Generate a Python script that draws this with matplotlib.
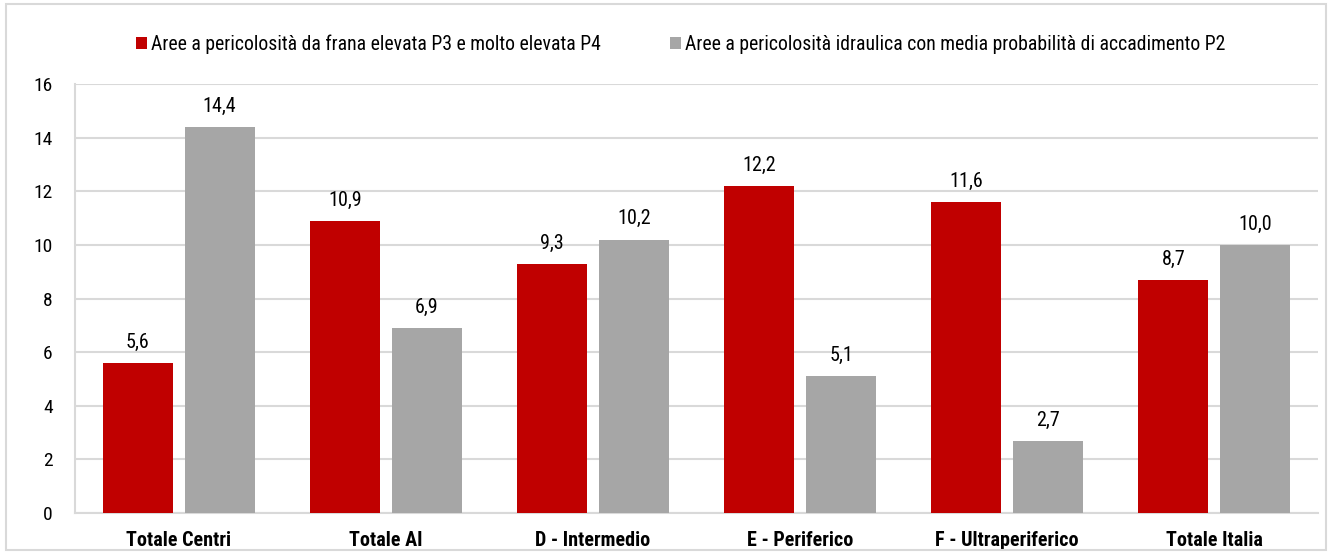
import numpy as np
import matplotlib
matplotlib.use("Agg")
import matplotlib.pyplot as plt
from matplotlib.patches import Rectangle

# dati
categorie = ["Totale Centri", "Totale AI", "D - Intermedio", "E - Periferico",
             "F - Ultraperiferico", "Totale Italia"]
frana = [5.6, 10.9, 9.3, 12.2, 11.6, 8.7]
idraulica = [14.4, 6.9, 10.2, 5.1, 2.7, 10.0]
nome_frana = "Aree a pericolosità da frana elevata P3 e molto elevata P4"
nome_idraulica = "Aree a pericolosità idraulica con media probabilità di accadimento P2"
yticks = [0, 2, 4, 6, 8, 10, 12, 14, 16]

plt.rcParams['font.family'] = ['Roboto Condensed', 'DejaVu Sans']

ROSSO = "#c00000"
GRIGIO = "#a6a6a6"
GRID = "#d9d9d9"

W, H = 1329, 552
fig = plt.figure(figsize=(W / 100, H / 100), dpi=100)
ax = fig.add_axes([75 / W, 1 - 513 / H, (1318 - 75) / W, (513 - 84) / H])

x = np.arange(len(categorie))
w = 0.338
b1 = ax.bar(x - 0.198, frana, w, color=ROSSO, label=nome_frana, zorder=3)
b2 = ax.bar(x + 0.198, idraulica, w, color=GRIGIO, label=nome_idraulica, zorder=3)

for bars in (b1, b2):
    for r in bars:
        v = r.get_height()
        ax.annotate(f"{v:.1f}".replace(".", ","),
                    (r.get_x() + r.get_width() / 2, v),
                    xytext=(0, 8), textcoords="offset points",
                    ha="center", va="bottom", fontsize=14.5, color="black")

ax.set_xlim(-0.5, 5.5)
ax.set_ylim(0, 16)
ax.set_yticks(yticks)
ax.set_yticklabels([str(t) for t in yticks], fontsize=14)
ax.set_xticks(x)
ax.set_xticklabels(categorie, fontsize=14.5, fontweight="bold")
ax.tick_params(axis="both", length=0)
ax.tick_params(axis="x", pad=13)
ax.tick_params(axis="y", pad=16)
ax.grid(axis="y", color=GRID, linewidth=1.5, zorder=0)
for s in ("top", "right"):
    ax.spines[s].set_visible(False)
for s in ("bottom", "left"):
    ax.spines[s].set_color(GRID)
    ax.spines[s].set_linewidth(1.5)

fig.legend(loc="center", bbox_to_anchor=(0.512, 0.92), ncol=2, frameon=False,
           fontsize=14.2, handlelength=0.55, handleheight=0.55, handletextpad=0.2,
           columnspacing=3.5)

# bordo del grafico
fig.patches.append(Rectangle((6 / W, 1 - 550 / H), 1320 / W, 546 / H,
                             transform=fig.transFigure, fill=False,
                             edgecolor=GRID, linewidth=1.5))

fig.savefig("out.png", dpi=100)
